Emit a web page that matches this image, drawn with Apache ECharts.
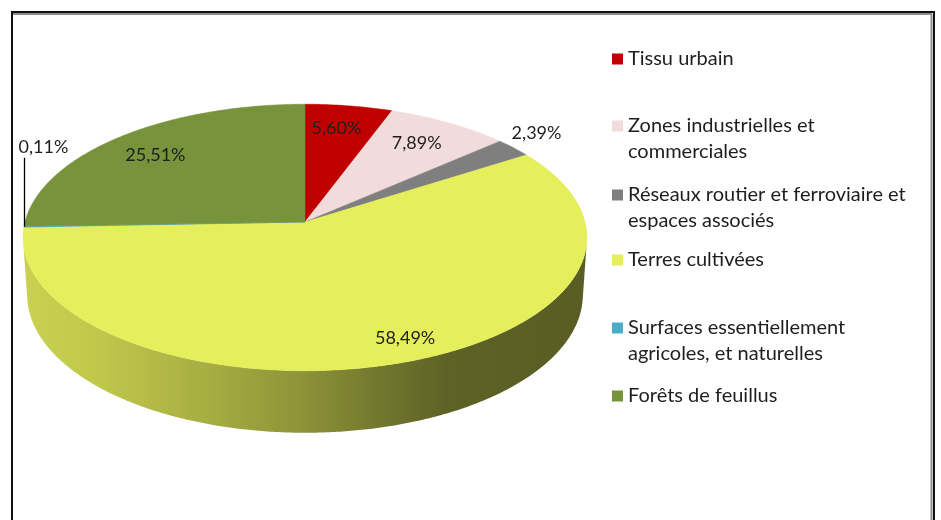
<!DOCTYPE html>
<html>
<head>
<meta charset="utf-8">
<script src="https://cdn.jsdelivr.net/npm/echarts@6/dist/echarts.min.js"></script>
<style>
  html, body { margin: 0; padding: 0; background: #ffffff; }
  #chart { width: 941px; height: 520px; }
</style>
</head>
<body>
<div id="chart"></div>
<script>
// Land-cover shares (%), clockwise from 12 o'clock
const categories = [
  'Tissu urbain',
  'Zones industrielles et\ncommerciales',
  'Réseaux routier et ferroviaire et\nespaces associés',
  'Terres cultivées',
  'Surfaces essentiellement\nagricoles, et naturelles',
  'Forêts de feuillus'
];
const shares = [5.60, 7.89, 2.39, 58.49, 0.11, 25.51];
const sliceColors = ['#C00000', '#F2DCDB', '#7F7F7F', '#E5EE5B', '#4BACC6', '#77933C'];

// Layout of the tilted disc (perspective view)
const VIEW = {
  cx: 305, cy: 222,
  focal: 2128, dist: 7.6,
  tilt: 28 * Math.PI / 180,
  depth: 0.234
};
// Where each percentage label sits
const labelLayout = [
  { r: 0.79, dx: -4 },
  { r: 0.78, dx: -3 },
  { outside: true },
  { r: 0.84, dx: 22 },
  { leader: 69 },
  { r: 0.78, dx: -2 }
];
// Vertical centre of each legend marker
const legendMarkerY = [59, 126, 195, 260, 328, 396];

const FONT = '"Lato", "Open Sans", sans-serif';
const TEXT_COLOR = '#1e1e1e';

function project(deg, r, h) {
  const t = deg * Math.PI / 180;
  const X = r * Math.sin(t), Z = r * Math.cos(t);
  const yc = h * Math.cos(VIEW.tilt) + Z * Math.sin(VIEW.tilt);
  const zc = VIEW.dist + Z * Math.cos(VIEW.tilt) - h * Math.sin(VIEW.tilt);
  return [VIEW.cx + VIEW.focal * X / zc, VIEW.cy - VIEW.focal * yc / zc];
}
function arc(from, to, r, h) {
  const n = Math.max(2, Math.ceil(Math.abs(to - from) / 0.5) + 1);
  const pts = [];
  for (let k = 0; k < n; k++) pts.push(project(from + (to - from) * k / (n - 1), r, h));
  return pts;
}

// Part of the rim that faces the viewer
const rimLimit = Math.acos(-1 / (VIEW.dist * Math.cos(VIEW.tilt))) * 180 / Math.PI;
const VISIBLE = [rimLimit, 360 - rimLimit];
let rimMinX = Infinity, rimMaxX = -Infinity;
for (let a = 0; a < 360; a += 1) {
  const p = project(a, 1, 0);
  rimMinX = Math.min(rimMinX, p[0]);
  rimMaxX = Math.max(rimMaxX, p[0]);
}

function shade(hex, f) {
  const v = parseInt(hex.slice(1), 16);
  const c = [(v >> 16) & 255, (v >> 8) & 255, v & 255].map(x => Math.round(x * f));
  return 'rgb(' + c.join(',') + ')';
}
function sideFill(color) {
  const stops = [[0, 0.88], [0.13, 0.84], [0.31, 0.74], [0.49, 0.62], [0.63, 0.5], [0.75, 0.41], [1, 0.39]];
  return new echarts.graphic.LinearGradient(rimMinX, 0, rimMaxX, 0,
    stops.map(s => ({ offset: s[0], color: shade(color, s[1]) })), true);
}
function fmtShare(v) {
  return v.toFixed(2).replace('.', ',') + '%';
}

const total = shares.reduce((a, b) => a + b, 0);

function renderSlice(params, api) {
  const idx = api.value(0);
  const share = api.value(1);
  let before = 0;
  for (let k = 0; k < idx; k++) before += shares[k];
  const a0 = 360 * before / total;
  const a1 = 360 * (before + share) / total;
  const mid = (a0 + a1) / 2;
  const color = sliceColors[idx];
  const children = [];

  // visible outer wall
  const s0 = Math.max(a0, VISIBLE[0]), s1 = Math.min(a1, VISIBLE[1]);
  if (s1 > s0) {
    const pts = arc(s0, s1, 1, 0).concat(arc(s1, s0, 1, -VIEW.depth));
    children.push({
      type: 'polygon', z2: 1,
      shape: { points: pts },
      style: { fill: sideFill(color), stroke: null }
    });
  }

  // top face
  children.push({
    type: 'polygon', z2: 5,
    shape: { points: [project(0, 0, 0)].concat(arc(a0, a1, 1, 0)) },
    style: { fill: color, stroke: color, lineWidth: 0.5, lineJoin: 'round' }
  });

  // value label
  const lay = labelLayout[idx];
  const text = fmtShare(share);
  const tStyle = { text: text, font: '18px ' + FONT, fill: TEXT_COLOR };
  if (lay.leader) {
    const rim = project(mid, 1, 0);
    const x = Math.round(rim[0]) + 0.5;
    const yTop = rim[1] - lay.leader;
    children.push({
      type: 'polyline', z2: 8,
      shape: { points: [[x, rim[1]], [x, yTop]] },
      style: { stroke: '#000000', lineWidth: 1.3, fill: null }
    });
    children.push({
      type: 'text', z2: 10,
      style: Object.assign({ x: x - 6, y: yTop - 2, align: 'left', verticalAlign: 'bottom' }, tStyle)
    });
  } else if (lay.outside) {
    const rim = project(mid, 1, 0);
    children.push({
      type: 'text', z2: 10,
      style: Object.assign({ x: rim[0] - 2, y: rim[1] - 6, align: 'left', verticalAlign: 'bottom' }, tStyle)
    });
  } else {
    const p = project(mid, lay.r, 0);
    children.push({
      type: 'text', z2: 10,
      style: Object.assign({ x: p[0] + (lay.dx || 0), y: p[1] + (lay.dy || 0), align: 'center', verticalAlign: 'middle' }, tStyle)
    });
  }
  return { type: 'group', children: children };
}

// Legend: the marker sits level with the first line of a wrapped name,
// so wrapped names get a blank leading line to keep that line centred on the marker.
const LINE_H = 26;
const legends = categories.map((name, i) => {
  const lines = name.split('\n').length;
  const shown = lines > 1 ? lines * 2 - 1 : 1;
  return {
    data: [name],
    orient: 'vertical',
    left: 612,
    top: legendMarkerY[i] - LINE_H * shown / 2,
    padding: 0,
    itemGap: 0,
    icon: 'rect',
    itemWidth: 11,
    itemHeight: 11,
    selectedMode: false,
    formatter: n => lines > 1 ? new Array(lines).join(' \n') + n : n,
    textStyle: {
      fontFamily: FONT,
      fontSize: 20,
      color: TEXT_COLOR,
      lineHeight: LINE_H
    }
  };
});

const chart = echarts.init(document.getElementById('chart'), null, { renderer: 'canvas' });
chart.setOption({
  animation: false,
  backgroundColor: '#ffffff',
  legend: legends,
  graphic: [
    { type: 'rect', z: 0, shape: { x: 12, y: 12, width: 922, height: 560 },
      style: { fill: null, stroke: '#111111', lineWidth: 2 } },
    { type: 'line', z: 0, shape: { x1: 13, y1: 14, x2: 932, y2: 14 },
      style: { stroke: '#8d8d8d', lineWidth: 2 } },
    { type: 'line', z: 0, shape: { x1: 931.5, y1: 14, x2: 931.5, y2: 520 },
      style: { stroke: '#8d8d8d', lineWidth: 2 } }
  ],
  series: categories.map((name, i) => ({
    type: 'custom',
    name: name,
    coordinateSystem: 'none',
    z: 2,
    silent: true,
    itemStyle: { color: sliceColors[i] },
    data: [[i, shares[i]]],
    renderItem: renderSlice
  }))
});
</script>
</body>
</html>
